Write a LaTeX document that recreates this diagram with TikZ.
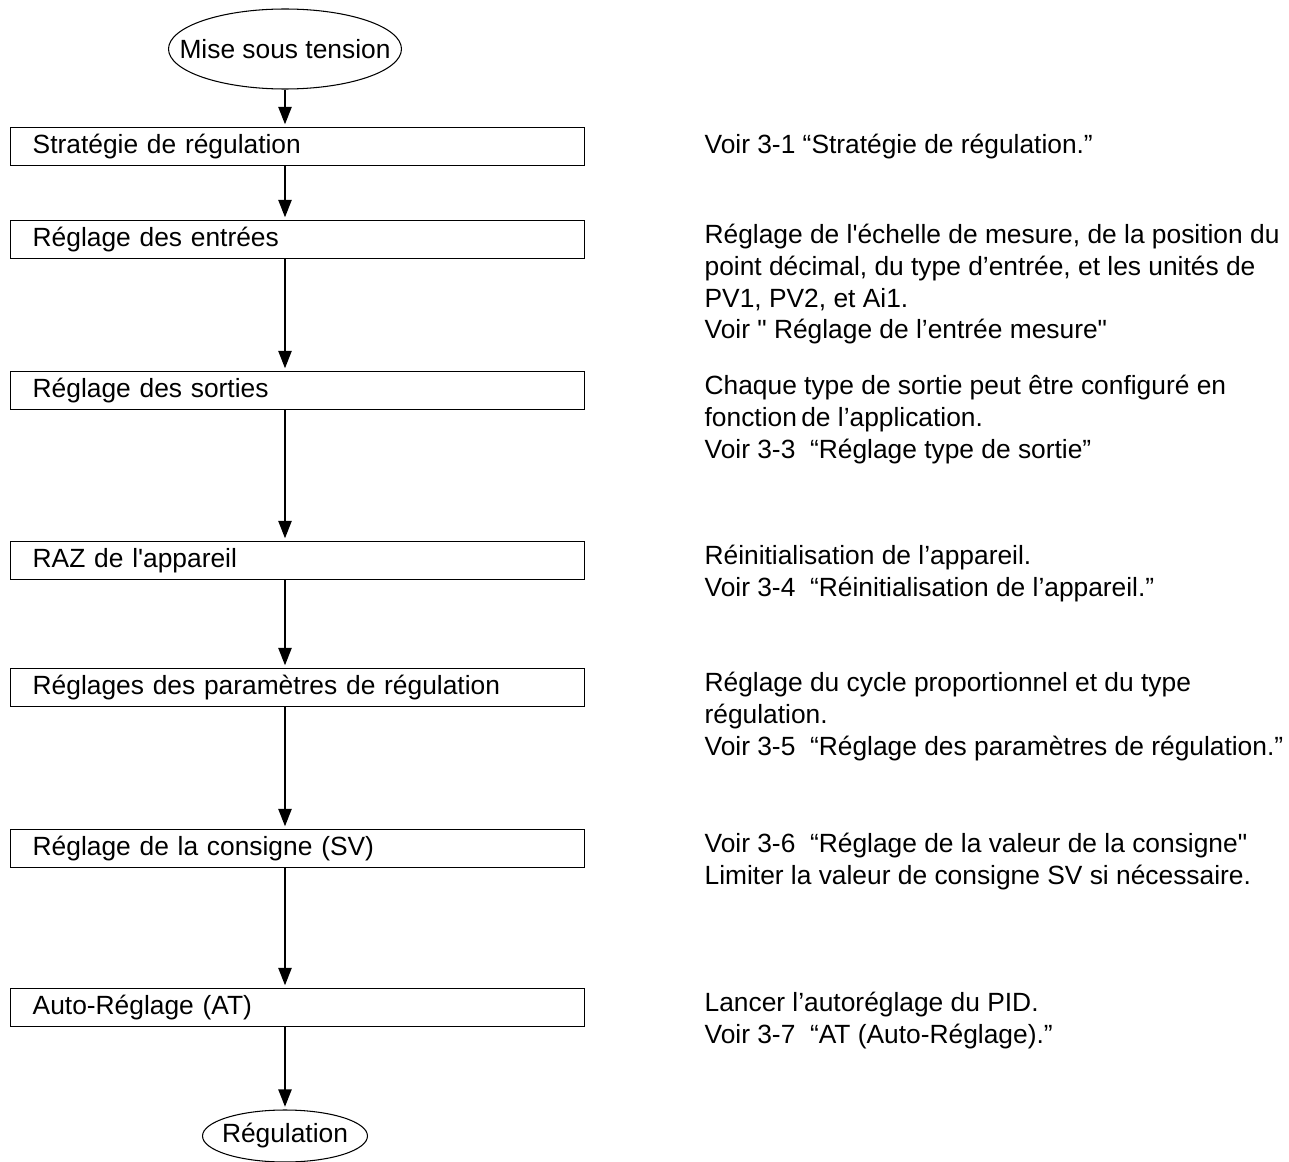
\documentclass[tikz,border=0pt]{standalone}
\usepackage{fontspec}
\newfontfamily\flowfont{Liberation Sans}
\usetikzlibrary{arrows.meta, positioning, shapes.geometric}

\begin{document}
\begin{tikzpicture}[
        x=0.02cm, y=-0.02cm,
        every node/.style={font=\flowfont\fontsize{15pt}{18pt}\selectfont},
        stepbox/.style={draw, line width=0.8pt, anchor=north west,
                        minimum width=11.48cm, minimum height=0.76cm,
                        text width=10.6cm, inner xsep=0.44cm, align=left,
                        text height=11pt, text depth=3.5pt},
        term/.style={draw, ellipse, line width=0.6pt, inner sep=0pt},
        desc/.style={anchor=north west, inner sep=0pt, align=left,
                     execute at begin node=\strut},
        arr/.style={-{Triangle[length=10pt, width=7.5pt]}, line width=1.2pt,
                    shorten >=1.5pt}
      ]
      \useasboundingbox (0,0) rectangle (1289,1162);
      % steps
      \node[term, minimum width=4.66cm, minimum height=1.6cm] (start) at (285,49)
        {\makebox[0pt]{Mise sous tension}};
      \node[stepbox] (strat) at (10,127) {Stratégie de régulation};
      \node[stepbox] (entrees) at (10,220) {Réglage des entrées};
      \node[stepbox] (sorties) at (10,371) {Réglage des sorties};
      \node[stepbox] (raz) at (10,541) {RAZ de l'appareil};
      \node[stepbox] (param) at (10,668) {Réglages des paramètres de régulation};
      \node[stepbox] (consigne) at (10,829) {Réglage de la consigne (SV)};
      \node[stepbox] (autoreg) at (10,988) {Auto-Réglage (AT)};
      \node[term, minimum width=3.3cm, minimum height=1.04cm] (regul) at (285,1136)
        {\makebox[0pt]{Régulation}};
      % notes, first line on the box baseline
      \node[desc] (dstrat) at ([xshift=2.38cm, yshift=12.6pt]strat.base east)
        {Voir 3-1 “Stratégie de régulation.”};
      \node[desc] (dentrees) at ([xshift=2.38cm, yshift=12.6pt]entrees.base east)
        {Réglage de l'échelle de mesure, de la position du\\
         point décimal, du type d’entrée, et les unités de\\
         PV1, PV2, et Ai1.\\
         Voir " Réglage de l’entrée mesure"};
      \node[desc] (dsorties) at ([xshift=2.38cm, yshift=12.6pt]sorties.base east)
        {Chaque type de sortie peut être configuré en\\
         fonction\,de l’application.\\
         Voir 3-3\ \ “Réglage type de sortie”};
      \node[desc] (draz) at ([xshift=2.38cm, yshift=12.6pt]raz.base east)
        {Réinitialisation de l’appareil.\\
         Voir 3-4\ \ “Réinitialisation de l’appareil.”};
      \node[desc] (dparam) at ([xshift=2.38cm, yshift=12.6pt]param.base east)
        {Réglage du cycle proportionnel et du type\\
         régulation.\\
         Voir 3-5\ \ “Réglage des paramètres de régulation.”};
      \node[desc] (dconsigne) at ([xshift=2.38cm, yshift=12.6pt]consigne.base east)
        {Voir 3-6\ \ “Réglage de la valeur de la consigne"\\
         Limiter la valeur de consigne SV si nécessaire.};
      \node[desc] (dautoreg) at ([xshift=2.38cm, yshift=12.6pt]autoreg.base east)
        {Lancer l’autoréglage du PID.\\
         Voir 3-7\ \ “AT (Auto-Réglage).”};
      % flow
      \draw[arr] (start) -- (strat.north -| start);
      \foreach \a/\b in {strat/entrees, entrees/sorties, sorties/raz, raz/param,
                         param/consigne, consigne/autoreg}
        \draw[arr] (\a.south -| start) -- (\b.north -| start);
      \draw[arr] (autoreg.south -| start) -- (regul);
    \end{tikzpicture}
\end{document}
